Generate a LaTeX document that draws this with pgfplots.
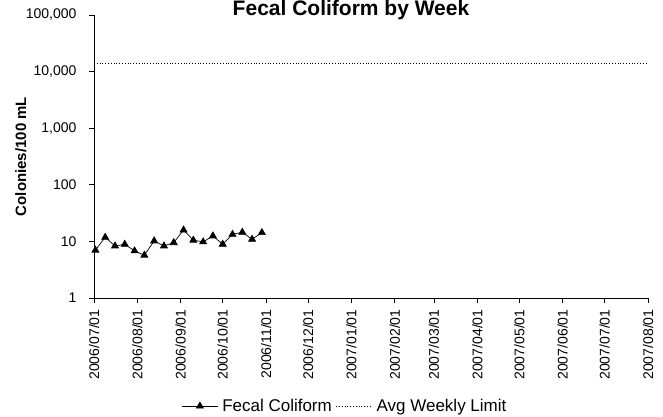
\documentclass[border=0pt]{standalone}
\usepackage{pgfplots}
\pgfplotsset{compat=1.18}
\usepackage{fontspec}
\setmainfont{Liberation Sans}
\begin{document}
\begin{tikzpicture}[x=1pt,y=1pt]
\useasboundingbox (0,0) rectangle (663,417);
\begin{axis}[
  at={(94pt,119pt)}, anchor=south west,
  scale only axis, width=554pt, height=283pt,
  ymode=log, ymin=1, ymax=100000,
  xmin=0, xmax=396,
  axis lines*=left,
  axis line style={line width=0.8pt},
  tick style={black, line width=0.6pt},
  tick align=outside,
  major tick length=5pt,
  ytick={1,10,100,1000,10000,100000},
  yticklabels={1,10,100,{1,000},{10,000},{100,000}},
  yminorticks=false,
  xtick={0,31,62,92,123,153,184,215,243,274,304,335,365,396},
  xticklabels={2006/07/01,2006/08/01,2006/09/01,2006/10/01,2006/11/01,2006/12/01,2007/01/01,2007/02/01,2007/03/01,2007/04/01,2007/05/01,2007/06/01,2007/07/01,2007/08/01},
  xticklabel style={rotate=90, anchor=east, font=\fontsize{14}{16}\selectfont},
  xticklabel shift={3pt},
  yticklabel style={font=\fontsize{14}{16}\selectfont},
  yticklabel shift={9pt},
  /pgf/number format/assume math mode=true,
  ylabel={\textbf{Colonies/100 mL}},
  ylabel style={font=\fontsize{15}{17}\selectfont, at={(axis description cs:-0.132,0.5)}, anchor=center},
  legend columns=2,
  legend style={draw=none, fill=none, at={(axis description cs:0.453,-0.382)}, anchor=center,
    font=\fontsize{17}{19}\selectfont, column sep=2pt},
  legend cell align=left,
  legend image code/.code={\draw[mark repeat=2,mark phase=2,#1] plot coordinates {(0pt,0pt) (18pt,0pt) (36pt,0pt)};},
  clip=false,
]
\addplot[black, line width=0.7pt, mark=triangle*, mark size=4pt, mark options={solid, fill=black}]
coordinates {
(1,7.0) (8,11.8) (15,8.3) (22,8.9) (29,6.8) (36,5.7) (43,10.2) (50,8.3) (57,9.5)
(64,15.9) (71,10.5) (78,9.8) (85,12.5) (92,8.9) (99,13.3) (106,14.5) (113,10.9) (120,14.3)
};
\addlegendentry{Fecal Coliform}
\addplot[black, line width=0.8pt, dotted] coordinates {(0,14000) (396,14000)};
\addlegendentry{Avg Weekly Limit}
\end{axis}
\node[anchor=base, font=\fontsize{21}{24}\bfseries] at (351,401.5) {Fecal Coliform by Week};
\end{tikzpicture}
\end{document}
